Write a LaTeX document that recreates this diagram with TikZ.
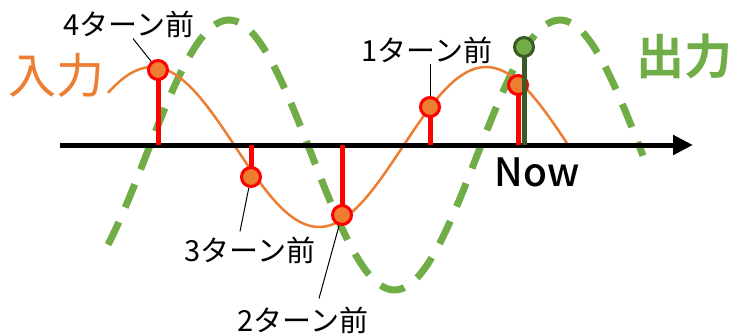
\documentclass[tikz,border=0pt]{standalone}
\usepackage{fontspec}
\setmainfont{Noto Sans CJK JP}[BoldFont={Noto Sans CJK JP Bold}]
\newfontfamily\nowfont{Noto Sans CJK JP Medium}
\usetikzlibrary{arrows.meta}
\definecolor{inorange}{HTML}{ED7D31}
\definecolor{outgreen}{HTML}{70AD47}
\definecolor{stemgreen}{HTML}{3B5A25}
\begin{document}
\begin{tikzpicture}[x=1pt,y=-1pt,
  sample/.style={circle, fill=inorange, draw=red, line width=3pt, minimum size=19pt, inner sep=0pt},
  outpt/.style={circle, fill=outgreen, draw=stemgreen, line width=3pt, minimum size=19pt, inner sep=0pt},
  redstem/.style={red, line width=5pt},
  greenstem/.style={stemgreen, line width=5pt},
  leader/.style={black, line width=1pt},
  turnlabel/.style={font=\fontsize{29}{34}\selectfont, inner sep=0pt},
  biglabel/.style={font=\fontsize{48}{56}\selectfont, inner sep=0pt},
  inwave/.style={inorange, line width=2.5pt},
  outwave/.style={outgreen, line width=7pt, dash pattern=on 25pt off 16pt},
]
\useasboundingbox (0,0) rectangle (732,335);

% output wave (dashed)
\draw[outwave] plot[domain=108:643, samples=160, smooth] (\x, {155-135*cos((\x-229)/165.5*180)});
% input wave
\draw[inwave] plot[domain=108:568, samples=120, smooth] (\x, {147-80*cos((\x-152)/167*180)});

% axis
\coordinate (axL) at (60,145);
\coordinate (axR) at (693,145);
\draw[line width=5pt, -{Triangle[length=20pt,width=19pt]}] (axL) -- (axR);

% samples
\coordinate (p4c) at (158,70);
\coordinate (p3c) at (251,177);
\coordinate (p2c) at (342,215);
\coordinate (p1c) at (430,107);
\coordinate (pnc) at (518,85);
\coordinate (oc) at (524,47);

\draw[redstem] (p4c) -- (p4c |- axL);
\draw[redstem] (p3c) -- (p3c |- axL);
\draw[redstem] (p2c) -- (p2c |- axL);
\draw[redstem] (p1c) -- (p1c |- axL);
\draw[redstem] (pnc) -- (pnc |- axL);

\node[sample] (p4) at (p4c) {};
\node[sample] (p3) at (p3c) {};
\node[sample] (p2) at (p2c) {};
\node[sample] (p1) at (p1c) {};
\node[sample] (pn) at (pnc) {};

\draw[greenstem] (oc) -- (oc |- axL);
\node[outpt] (o) at (oc) {};

% labels
\node[turnlabel] (l4) at (129,24) {4ターン前};
\node[turnlabel] (l1) at (427,50) {1ターン前};
\node[turnlabel] (l3) at (250,250) {3ターン前};
\node[turnlabel] (l2) at (303,320) {2ターン前};

\draw[leader] ([xshift=4pt,yshift=-1pt]l4.south) -- (p4);
\draw[leader] (l1.south -| p1) -- (p1);
\draw[leader] ([xshift=-10pt,yshift=5pt]l3.north) -- (p3);
\draw[leader] ([xshift=16pt,yshift=8pt]l2.north) -- (p2);

\node[biglabel, text=inorange] (in) at (57,75) {入力};
\node[biglabel, text=outgreen, font=\fontsize{48}{56}\selectfont\bfseries] (out) at (684,56) {出力};
\node[inner sep=0pt, font=\fontsize{39}{44}\selectfont\nowfont] (now) at (537,172) {Now};
\end{tikzpicture}
\end{document}
